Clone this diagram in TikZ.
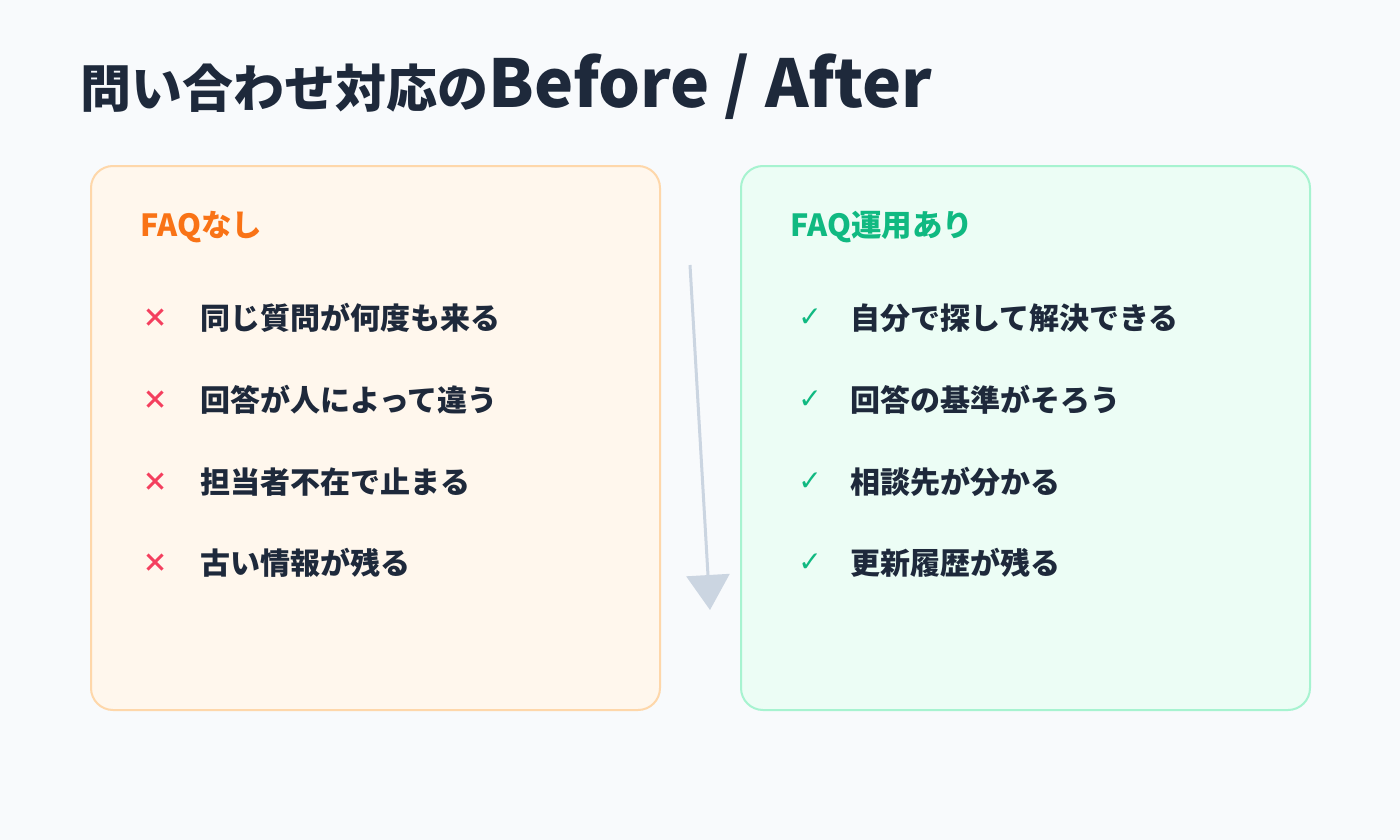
\documentclass[tikz,border=0pt]{standalone}
\usepackage{fontspec}
\usetikzlibrary{arrows.meta}
\setmainfont{Noto Sans CJK JP}
\newfontfamily\symf{DejaVu Sans}
\definecolor{bg}{HTML}{F8FAFC}
\definecolor{ink}{HTML}{1E293B}
\definecolor{lfill}{HTML}{FFF7ED}
\definecolor{lline}{HTML}{FED7AA}
\definecolor{rfill}{HTML}{ECFDF5}
\definecolor{rline}{HTML}{A7F3D0}
\definecolor{orangeT}{HTML}{F97316}
\definecolor{greenT}{HTML}{10B981}
\definecolor{redX}{HTML}{F43F5E}
\definecolor{arrowc}{HTML}{CBD5E1}
\tikzset{
  panel/.style={rounded corners=22pt, line width=2pt},
  head/.style={anchor=west, font=\fontsize{30.5}{34}\selectfont\bfseries, inner sep=0pt},
  item/.style={anchor=west, font=\fontsize{30}{34}\selectfont\bfseries, text=ink, inner sep=0pt},
  xmark/.style={font=\fontsize{26}{28}\selectfont\bfseries, text=redX, inner sep=0pt},
  cmark/.style={font=\symf\fontsize{28}{30}\selectfont, text=greenT, inner sep=0pt},
}
\begin{document}
\begin{tikzpicture}[x=1pt,y=-1pt]
\fill[bg] (0,0) rectangle (1400,840);
\useasboundingbox (0,0) rectangle (1400,840);
\node[anchor=west, inner sep=0pt, text=ink, font=\fontsize{51}{56}\selectfont\bfseries] (title) at (80,87) {問い合わせ対応の{\fontsize{66}{72}\selectfont Before / After}};
\draw[panel, fill=lfill, draw=lline] (91,166) rectangle (660,710);
\draw[panel, fill=rfill, draw=rline] (741,166) rectangle (1310,710);
\node[head, text=orangeT] (lh) at (140,227) {FAQなし};
\node[head, text=greenT] (rh) at (790,227) {FAQ運用あり};
\foreach \y/\t [count=\i] in {318/同じ質問が何度も来る,400/回答が人によって違う,482/担当者不在で止まる,563/古い情報が残る}{
  \node[xmark] (lx\i) at (155,\y) {×};
  \node[item] (lt\i) at (200,\y) {\t};
}
\foreach \y/\t [count=\i] in {318/自分で探して解決できる,400/回答の基準がそろう,482/相談先が分かる,563/更新履歴が残る}{
  \node[cmark] (rc\i) at (810,\y) {✓};
  \node[item] (rt\i) at (850,\y) {\t};
}
\coordinate (a1) at (690,265);
\coordinate (a2) at (710,610);
\draw[arrowc, line width=3pt, -{Triangle[length=35pt,width=43pt]}] (a1) -- (a2);
\end{tikzpicture}
\end{document}
